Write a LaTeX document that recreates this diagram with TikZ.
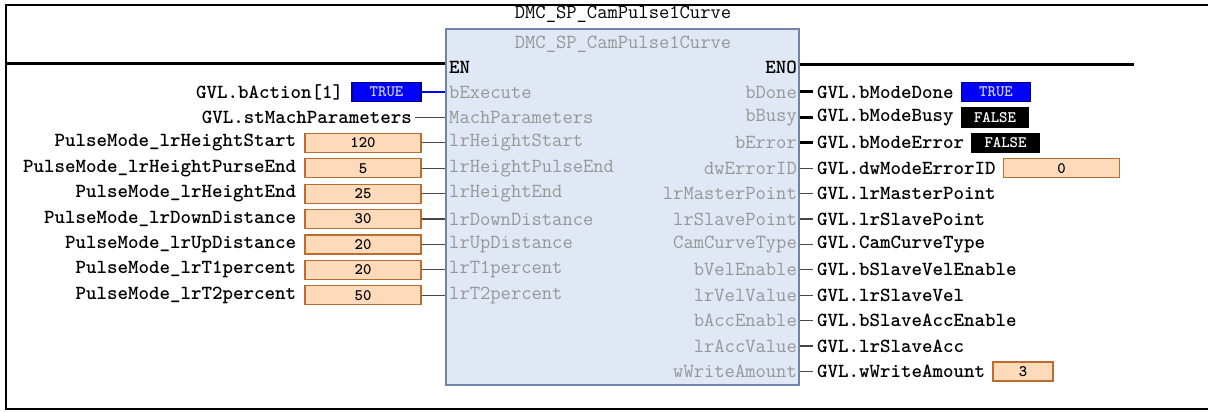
\documentclass[tikz,border=0pt]{standalone}
\usepackage{fontspec}
\definecolor{blkfill}{RGB}{225,232,245}
\definecolor{blkdraw}{RGB}{112,132,168}
\definecolor{pingris}{RGB}{150,150,150}
\definecolor{valfill}{RGB}{253,218,186}
\definecolor{valdraw}{RGB}{188,108,48}
\definecolor{wire}{RGB}{70,70,70}
\definecolor{azulbox}{RGB}{0,0,255}
\definecolor{truetxt}{RGB}{205,205,240}
\usetikzlibrary{positioning}

\begin{document}
\begin{tikzpicture}[
    x=1pt, y=-1pt,
    var/.style={inner sep=0pt, font=\fontsize{20}{20}\selectfont\ttfamily\bfseries},
    pin/.style={inner sep=0pt, text=pingris, font=\fontsize{20}{20}\selectfont\ttfamily},
    fb/.style={rectangle, draw=blkdraw, fill=blkfill, line width=1.5pt,
      minimum width=353pt, minimum height=356pt},
    val/.style={rectangle, draw=valdraw, fill=valfill, line width=1.2pt,
      minimum width=116pt, minimum height=19pt, inner sep=0pt,
      font=\fontsize{16}{16}\selectfont\ttfamily\bfseries},
    truebox/.style={val, draw=blue!55!black, fill=azulbox, text=truetxt,
      minimum width=69pt},
    falsebox/.style={val, draw=black, fill=black, text=white, minimum width=67pt},
    thin/.style={draw=wire, line width=1.2pt},
    bool/.style={draw=black, line width=3pt}
  ]
    \useasboundingbox (0,0) rectangle (1208,412);
    % frame and power rails
    \draw[line width=2.5pt] (1210,5) -- (6,5) -- (6,409) -- (1210,409);
    \node[pin, text=black] (fbname) at (623,14) {DMC\_SP\_CamPulse1Curve};
    \node[fb] (fb) at (622.5,207) {};
    \node[pin] (fbtype) at (623,44) {DMC\_SP\_CamPulse1Curve};
    \node[var, anchor=west] (en) at (449,67) {EN};
    \node[var, anchor=east] (eno) at (797,67) {ENO};
    \coordinate (railL) at (6,64);
    \coordinate (railR) at (1134,65);
    \draw[line width=3pt] (railL) -- (railL -| fb.west);
    \draw[line width=3pt] (eno.east -| fb.east) ++(0,-2) -- (railR);

    % inputs
    \node[pin, anchor=west] (bExecute) at (449,92) {bExecute};
    \node[pin, anchor=west] (MachParameters) at (449,117.4) {MachParameters};
    \node[pin, anchor=west] (lrHeightStart) at (449,142.8) {lrHeightStart};
    \node[pin, anchor=west] (lrHeightPulseEnd) at (449,168.2) {lrHeightPulseEnd};
    \node[pin, anchor=west] (lrHeightEnd) at (449,193.6) {lrHeightEnd};
    \node[pin, anchor=west] (lrDownDistance) at (449,219) {lrDownDistance};
    \node[pin, anchor=west] (lrUpDistance) at (449,244.4) {lrUpDistance};
    \node[pin, anchor=west] (lrT1percent) at (449,269.8) {lrT1percent};
    \node[pin, anchor=west] (lrT2percent) at (449,295.2) {lrT2percent};

    \node[truebox] (vAction) at (386.5,92) {TRUE};
    \node[var, left=8pt of vAction] (gAction) {GVL.bAction[1]};
    \node[var, anchor=east] (gMach) at (412,117.4) {GVL.stMachParameters};
    \node[val] (vHStart) at (363,142.8) {120};
    \node[var, left=8pt of vHStart] (gHStart) {PulseMode\_lrHeightStart};
    \node[val] (vHPulse) at (363,168.2) {5};
    \node[var, left=8pt of vHPulse] (gHPulse) {PulseMode\_lrHeightPurseEnd};
    \node[val] (vHEnd) at (363,193.6) {25};
    \node[var, left=8pt of vHEnd] (gHEnd) {PulseMode\_lrHeightEnd};
    \node[val] (vDown) at (363,219) {30};
    \node[var, left=8pt of vDown] (gDown) {PulseMode\_lrDownDistance};
    \node[val] (vUp) at (363,244.4) {20};
    \node[var, left=8pt of vUp] (gUp) {PulseMode\_lrUpDistance};
    \node[val] (vT1) at (363,269.8) {20};
    \node[var, left=8pt of vT1] (gT1) {PulseMode\_lrT1percent};
    \node[val] (vT2) at (363,295.2) {50};
    \node[var, left=8pt of vT2] (gT2) {PulseMode\_lrT2percent};

    \draw[draw=azulbox, line width=2.5pt] (vAction.east) -- (bExecute.west -| fb.west);
    \draw[thin] ([xshift=3pt]gMach.east) -- (MachParameters.west -| fb.west);
    \draw[thin] (vHStart.east) -- (lrHeightStart.west -| fb.west);
    \draw[thin] (vHPulse.east) -- (lrHeightPulseEnd.west -| fb.west);
    \draw[thin] (vHEnd.east) -- (lrHeightEnd.west -| fb.west);
    \draw[thin] (vDown.east) -- (lrDownDistance.west -| fb.west);
    \draw[thin] (vUp.east) -- (lrUpDistance.west -| fb.west);
    \draw[thin] (vT1.east) -- (lrT1percent.west -| fb.west);
    \draw[thin] (vT2.east) -- (lrT2percent.west -| fb.west);

    % outputs
    \node[pin, anchor=east] (bDone) at (797,92) {bDone};
    \node[pin, anchor=east] (bBusy) at (797,117.4) {bBusy};
    \node[pin, anchor=east] (bError) at (797,142.8) {bError};
    \node[pin, anchor=east] (dwErrorID) at (797,168.2) {dwErrorID};
    \node[pin, anchor=east] (lrMasterPoint) at (797,193.6) {lrMasterPoint};
    \node[pin, anchor=east] (lrSlavePoint) at (797,219) {lrSlavePoint};
    \node[pin, anchor=east] (CamCurveType) at (797,244.4) {CamCurveType};
    \node[pin, anchor=east] (bVelEnable) at (797,269.8) {bVelEnable};
    \node[pin, anchor=east] (lrVelValue) at (797,295.2) {lrVelValue};
    \node[pin, anchor=east] (bAccEnable) at (797,320.6) {bAccEnable};
    \node[pin, anchor=east] (lrAccValue) at (797,346) {lrAccValue};
    \node[pin, anchor=east] (wWriteAmount) at (797,371.4) {wWriteAmount};

    \node[var, anchor=west] (gDone) at (817,92) {GVL.bModeDone};
    \node[truebox, right=7pt of gDone] (vDone) {TRUE};
    \node[var, anchor=west] (gBusy) at (817,117.4) {GVL.bModeBusy};
    \node[falsebox, right=7pt of gBusy] (vBusy) {FALSE};
    \node[var, anchor=west] (gError) at (817,142.8) {GVL.bModeError};
    \node[falsebox, right=7pt of gError] (vError) {FALSE};
    \node[var, anchor=west] (gErrID) at (817,168.2) {GVL.dwModeErrorID};
    \node[val, right=7pt of gErrID] (vErrID) {0};
    \node[var, anchor=west] (gMaster) at (817,193.6) {GVL.lrMasterPoint};
    \node[var, anchor=west] (gSlave) at (817,219) {GVL.lrSlavePoint};
    \node[var, anchor=west] (gCurve) at (817,244.4) {GVL.CamCurveType};
    \node[var, anchor=west] (gVelEn) at (817,269.8) {GVL.bSlaveVelEnable};
    \node[var, anchor=west] (gVel) at (817,295.2) {GVL.lrSlaveVel};
    \node[var, anchor=west] (gAccEn) at (817,320.6) {GVL.bSlaveAccEnable};
    \node[var, anchor=west] (gAcc) at (817,346) {GVL.lrSlaveAcc};
    \node[var, anchor=west] (gWrite) at (817,371.4) {GVL.wWriteAmount};
    \node[val, right=7pt of gWrite, minimum width=60pt] (vWrite) {3};

    \draw[bool] (bDone.east -| fb.east) -- ([xshift=-4pt]gDone.west);
    \draw[bool] (bBusy.east -| fb.east) -- ([xshift=-4pt]gBusy.west);
    \draw[bool] (bError.east -| fb.east) -- ([xshift=-4pt]gError.west);
    \draw[thin] (dwErrorID.east -| fb.east) -- ([xshift=-4pt]gErrID.west);
    \draw[thin] (lrMasterPoint.east -| fb.east) -- ([xshift=-4pt]gMaster.west);
    \draw[thin] (lrSlavePoint.east -| fb.east) -- ([xshift=-4pt]gSlave.west);
    \draw[thin] (CamCurveType.east -| fb.east) -- ([xshift=-4pt]gCurve.west);
    \draw[thin] (bVelEnable.east -| fb.east) -- ([xshift=-4pt]gVelEn.west);
    \draw[thin] (lrVelValue.east -| fb.east) -- ([xshift=-4pt]gVel.west);
    \draw[thin] (bAccEnable.east -| fb.east) -- ([xshift=-4pt]gAccEn.west);
    \draw[thin] (lrAccValue.east -| fb.east) -- ([xshift=-4pt]gAcc.west);
    \draw[thin] (wWriteAmount.east -| fb.east) -- ([xshift=-4pt]gWrite.west);
  \end{tikzpicture}
\end{document}
